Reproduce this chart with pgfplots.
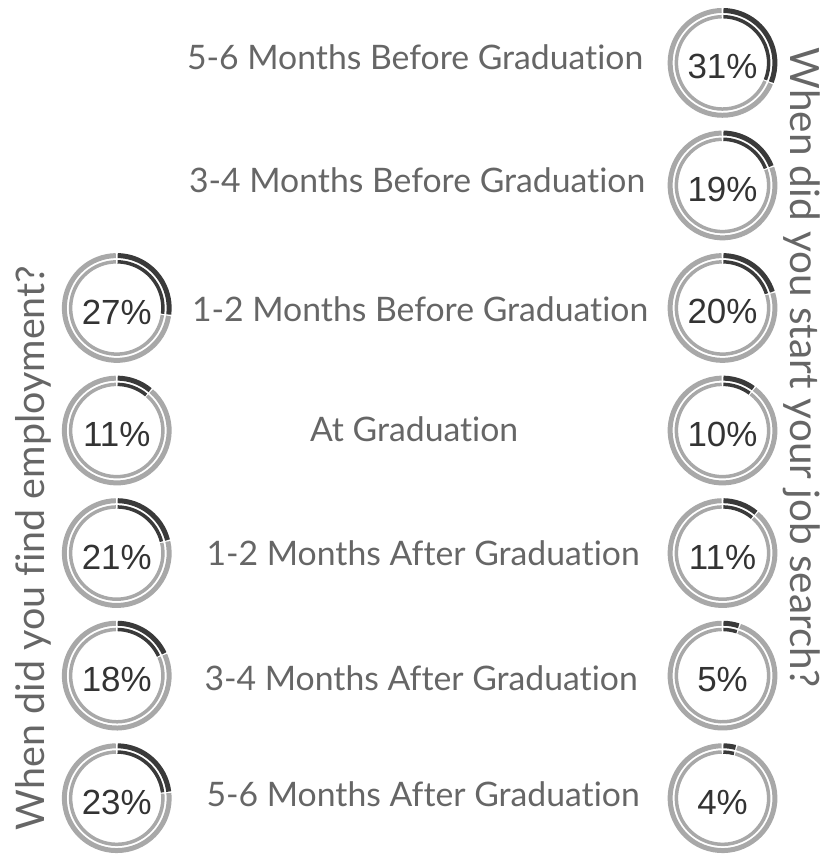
\documentclass[border=0pt]{standalone}
\usepackage{pgfplots}
\pgfplotsset{compat=1.18}
\usepackage{pgfplotstable}
\usepackage{fontspec}
\newfontfamily\latofont{Lato}[Ligatures=NoCommon]
\newfontfamily\pctfont{Liberation Sans}
\definecolor{ringgray}{HTML}{A8A8A8}
\definecolor{ringdark}{HTML}{3A3A3A}
\definecolor{labelgray}{HTML}{666666}
\definecolor{pctcol}{HTML}{333333}

% Right column: when did you start your job search?
\pgfplotstableread{
x y v
724 63 31
724 185.8 19
724 308.6 20
724 431.4 10
724 554.2 11
724 677 5
724 799.8 4
}\searchtab

% Left column: when did you find employment?
\pgfplotstableread{
x y v
117 308.6 27
117 431.4 11
117 554.2 21
117 677 18
117 799.8 23
}\employtab

\pgfplotstableread[col sep=comma]{
x,y,label
416,57.5,5-6 Months Before Graduation
418,181,3-4 Months Before Graduation
421,310,1-2 Months Before Graduation
415,430,At Graduation
424,554,1-2 Months After Graduation
422,679.5,3-4 Months After Graduation
424,795.5,5-6 Months After Graduation
}\labeltab

\pgfdeclareplotmark{donut}{%
  \pgfmathsetmacro\dend{90-3.6*\val}%
  \pgfmathsetmacro\gstart{\dend-1.6}%
  \pgfsetbuttcap
  \pgfsetstrokecolor{ringgray}%
  \pgfsetlinewidth{5bp}%
  \pgfpathmoveto{\pgfpointpolar{\gstart}{52.5bp}}%
  \pgfpatharc{\gstart}{-269}{52.5bp}%
  \pgfusepath{stroke}%
  \pgfsetlinewidth{3.5bp}%
  \pgfpathmoveto{\pgfpointpolar{\gstart}{46.25bp}}%
  \pgfpatharc{\gstart}{-269}{46.25bp}%
  \pgfusepath{stroke}%
  \pgfsetstrokecolor{ringdark}%
  \pgfsetlinewidth{5bp}%
  \pgfpathmoveto{\pgfpointpolar{89}{52.5bp}}%
  \pgfpatharc{89}{\dend}{52.5bp}%
  \pgfusepath{stroke}%
  \pgfsetlinewidth{3.5bp}%
  \pgfpathmoveto{\pgfpointpolar{89}{46.25bp}}%
  \pgfpatharc{89}{\dend}{46.25bp}%
  \pgfusepath{stroke}%
}

\pgfplotsset{
  donutplot/.style={
    scatter, only marks, mark=donut,
    point meta=\thisrow{v},
    visualization depends on={\thisrow{v}\as\val},
    nodes near coords={\pgfmathprintnumber[assume math mode=true]{\val}\%},
    every node near coord/.append style={anchor=center, yshift=-4bp,
      font=\pctfont\fontsize{35bp}{40bp}\selectfont, text=pctcol},
  },
}

\begin{document}
\begin{tikzpicture}
\begin{axis}[
  width=827bp, height=859bp, scale only axis,
  xmin=0, xmax=827, ymin=0, ymax=859, y dir=reverse,
  axis line style={draw=none}, ticks=none, clip=false,
]
\addplot[donutplot] table[x=x, y=y]{\searchtab};
\addplot[donutplot] table[x=x, y=y]{\employtab};
\addplot[draw=none, mark=none, nodes near coords, point meta=explicit symbolic,
  every node near coord/.append style={anchor=center,
    font=\latofont\fontsize{33.8bp}{40bp}\selectfont, text=labelgray}]
  table[x=x, y=y, meta=label]{\labeltab};
\node[rotate=90, anchor=base, text=labelgray,
  font=\latofont\fontsize{39.5bp}{44bp}\selectfont] at (axis cs:45,549) {When did you find employment?};
\node[rotate=-90, anchor=base, text=labelgray,
  font=\latofont\fontsize{40.5bp}{44bp}\selectfont] at (axis cs:792,368) {When did you start your job search?};
\end{axis}
\end{tikzpicture}
\end{document}
